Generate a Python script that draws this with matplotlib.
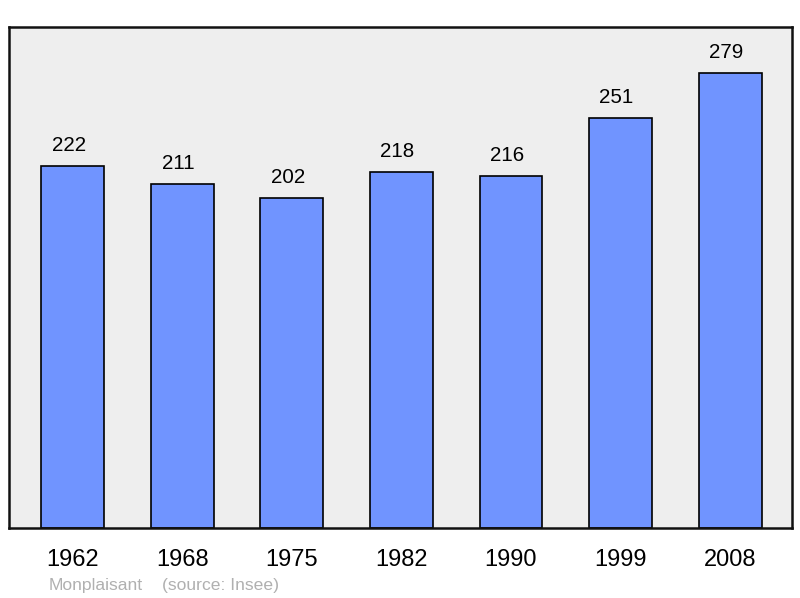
import matplotlib
matplotlib.use("Agg")
import matplotlib.pyplot as plt

years = ["1962", "1968", "1975", "1982", "1990", "1999", "2008"]
population = [222, 211, 202, 218, 216, 251, 279]

plt.rcParams['font.family'] = ['Liberation Sans', 'DejaVu Sans']

W, H = 800, 598
fig = plt.figure(figsize=(W/100, H/100), dpi=100)
ax = fig.add_axes([9/W, (H-528)/H, (792-9)/W, (528-27)/H])
ax.set_facecolor('#eeeeee')

x = list(range(len(years)))
ax.bar(x, population, width=0.575, color='#7094ff', edgecolor='black', linewidth=1.2, zorder=2)
for xi, v in zip(x, population):
    ax.annotate(str(v), (xi, v), xytext=(-4, 11), textcoords='offset pixels',
                ha='center', va='bottom', fontsize=14.8, color='black')

ax.set_xlim(-0.584, len(years) - 1 + 0.566)
ax.set_ylim(0, 307)
ax.set_yticks([])
ax.set_xticks(x)
ax.set_xticklabels(years, fontsize=17)
ax.tick_params(axis='x', length=0, pad=15)
for s in ax.spines.values():
    s.set_linewidth(1.8)
    s.set_color('#111111')

fig.text(49/W, 1 - 590/H, "Monplaisant", color='#b0b0b0', fontsize=12.6, ha='left', va='baseline')
fig.text(162/W, 1 - 590/H, "(source: Insee)", color='#b0b0b0', fontsize=12.6, ha='left', va='baseline')

fig.savefig("out.png", dpi=100)
